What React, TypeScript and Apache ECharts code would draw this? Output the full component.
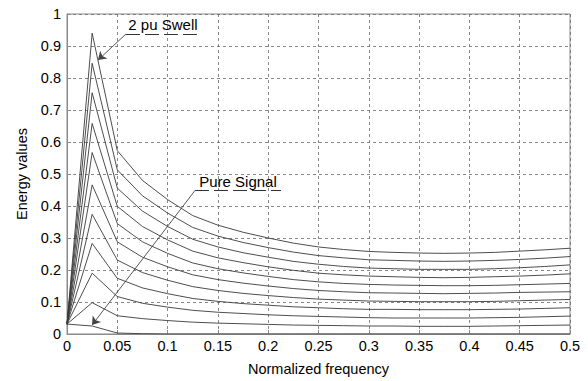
import React, { useEffect, useRef } from "react";
import * as echarts from "echarts";

const freqs = [0, 0.025, 0.05, 0.075, 0.1, 0.125, 0.15, 0.175, 0.2, 0.225, 0.25, 0.275, 0.3, 0.325, 0.35, 0.375, 0.4, 0.425, 0.45, 0.475, 0.5];

const swell10 = [0.031, 0.94, 0.573, 0.48, 0.42, 0.37, 0.34, 0.318, 0.3, 0.284, 0.272, 0.264, 0.258, 0.255, 0.253, 0.252, 0.253, 0.255, 0.259, 0.263, 0.268];
const swell9 = [0.031, 0.846, 0.513, 0.432, 0.378, 0.333, 0.306, 0.286, 0.27, 0.256, 0.245, 0.238, 0.232, 0.23, 0.228, 0.227, 0.228, 0.23, 0.233, 0.237, 0.242];
const swell8 = [0.031, 0.754, 0.456, 0.384, 0.336, 0.296, 0.272, 0.254, 0.24, 0.227, 0.218, 0.211, 0.206, 0.204, 0.202, 0.202, 0.202, 0.204, 0.207, 0.211, 0.216];
const swell7 = [0.031, 0.658, 0.399, 0.336, 0.294, 0.259, 0.238, 0.223, 0.21, 0.199, 0.19, 0.185, 0.181, 0.179, 0.177, 0.176, 0.177, 0.179, 0.181, 0.184, 0.188];
const swell6 = [0.031, 0.567, 0.345, 0.288, 0.252, 0.222, 0.204, 0.191, 0.18, 0.17, 0.163, 0.158, 0.155, 0.153, 0.152, 0.151, 0.151, 0.152, 0.154, 0.156, 0.158];
const swell5 = [0.031, 0.466, 0.288, 0.24, 0.21, 0.185, 0.17, 0.159, 0.15, 0.142, 0.136, 0.132, 0.129, 0.128, 0.127, 0.126, 0.127, 0.128, 0.13, 0.131, 0.132];
const swell4 = [0.031, 0.374, 0.231, 0.192, 0.168, 0.148, 0.136, 0.127, 0.12, 0.114, 0.109, 0.106, 0.103, 0.102, 0.101, 0.101, 0.101, 0.102, 0.104, 0.106, 0.108];
const swell3 = [0.031, 0.283, 0.174, 0.144, 0.126, 0.111, 0.102, 0.095, 0.09, 0.085, 0.082, 0.079, 0.077, 0.077, 0.076, 0.076, 0.076, 0.077, 0.078, 0.08, 0.082];
const swell2 = [0.031, 0.19, 0.117, 0.096, 0.084, 0.074, 0.068, 0.064, 0.06, 0.057, 0.055, 0.053, 0.051, 0.05, 0.05, 0.05, 0.05, 0.051, 0.052, 0.054, 0.056];
const swell1 = [0.031, 0.098, 0.057, 0.048, 0.042, 0.037, 0.034, 0.032, 0.03, 0.028, 0.027, 0.026, 0.025, 0.025, 0.024, 0.024, 0.024, 0.025, 0.026, 0.027, 0.028];
const pureSignal = [0.031, 0.025, 0.003, 0.001, 0, 0, 0, 0, 0, 0, 0, 0, 0, 0, 0, 0, 0, 0, 0, 0, 0];

const allSeries = [swell10, swell9, swell8, swell7, swell6, swell5, swell4, swell3, swell2, swell1, pureSignal];

const xTicks = ["0", "0.05", "0.1", "0.15", "0.2", "0.25", "0.3", "0.35", "0.4", "0.45", "0.5"];

// annotation anchors in data coordinates
const swellLabel = "2 pu Swell";
const swellUnderline = [[0.0586, 0.9375], [0.1322, 0.9375]];
const swellArrow = [[0.0586, 0.9375], [0.0308, 0.856]];
const pureLabel = "Pure Signal";
const pureUnderline = [[0.1272, 0.4484], [0.2127, 0.4484]];
const pureArrow = [[0.1272, 0.4484], [0.0249, 0.028]];

const FONT = "'Liberation Sans', Arial, Helvetica, sans-serif";
const FS = 14.5;

export default function App() {
  const ref = useRef<HTMLDivElement>(null);
  useEffect(() => {
    if (!ref.current) return;
    const chart = echarts.init(ref.current, null, { renderer: "svg" });

    const lineSeries = allSeries.map((vals, i) => ({
      type: "line",
      name: "s" + i,
      data: vals.map((v, j) => [freqs[j], v]),
      showSymbol: false,
      symbol: "none",
      lineStyle: { color: "#3a3a3a", width: 0.9 },
      silent: true,
      z: 3,
    }));

    const underlineStyle = { color: "#333", width: 1, type: [14, 5] };
    const arrowStyle = { color: "#444", width: 0.9, type: "solid" };
    const annLabel = (text: string) => ({
      show: true,
      position: "insideMiddleTop",
      formatter: text,
      color: "#000",
      fontSize: 15,
      fontFamily: FONT,
      distance: 2,
    });

    const annotation = {
      type: "line",
      data: [],
      silent: true,
      markLine: {
        silent: true,
        animation: false,
        symbolSize: 8,
        data: [
          [
            { coord: swellUnderline[0], symbol: "none", lineStyle: underlineStyle, label: annLabel(swellLabel) },
            { coord: swellUnderline[1], symbol: "none" },
          ],
          [
            { coord: swellArrow[0], symbol: "none", lineStyle: arrowStyle, label: { show: false } },
            { coord: swellArrow[1], symbol: "arrow" },
          ],
          [
            { coord: pureUnderline[0], symbol: "none", lineStyle: underlineStyle, label: annLabel(pureLabel) },
            { coord: pureUnderline[1], symbol: "none" },
          ],
          [
            { coord: pureArrow[0], symbol: "none", lineStyle: arrowStyle, label: { show: false } },
            { coord: pureArrow[1], symbol: "arrow" },
          ],
        ],
        itemStyle: { color: "#333" },
      },
    };

    chart.setOption({
      animation: false,
      backgroundColor: "#fff",
      textStyle: { fontFamily: FONT },
      grid: {
        left: 67,
        right: 18,
        top: 14,
        bottom: 47,
        show: true,
        borderColor: "#8a8a8a",
        borderWidth: 1,
      },
      xAxis: {
        type: "value",
        min: 0,
        max: 0.5,
        interval: 0.05,
        name: "Normalized frequency",
        nameLocation: "middle",
        nameGap: 27,
        nameTextStyle: { color: "#000", fontSize: FS, fontFamily: FONT },
        axisLine: { show: true, lineStyle: { color: "#8a8a8a" } },
        axisTick: { show: true, inside: true, length: 4, lineStyle: { color: "#8a8a8a" } },
        axisLabel: {
          color: "#000",
          fontSize: FS,
          fontFamily: FONT,
          margin: 4,
          formatter: (v: number) => {
            const idx = Math.round(v / 0.05);
            return xTicks[idx] ?? "";
          },
        },
        splitLine: { show: true, lineStyle: { color: "#6a6a6a", type: [3, 3], width: 0.8 } },
      },
      yAxis: {
        type: "value",
        min: 0,
        max: 1,
        interval: 0.1,
        name: "Energy values",
        nameLocation: "middle",
        nameGap: 37,
        nameTextStyle: { color: "#000", fontSize: FS, fontFamily: FONT },
        axisLine: { show: true, lineStyle: { color: "#8a8a8a" } },
        axisTick: { show: true, inside: true, length: 4, lineStyle: { color: "#8a8a8a" } },
        axisLabel: {
          color: "#000",
          fontSize: FS,
          fontFamily: FONT,
          margin: 6,
          formatter: (v: number) => {
            const r = Math.round(v * 10) / 10;
            return r === 0 ? "0" : r === 1 ? "1" : String(r);
          },
        },
        splitLine: { show: true, lineStyle: { color: "#6a6a6a", type: [3, 3], width: 0.8 } },
      },
      series: [...lineSeries, annotation],
    });

    return () => chart.dispose();
  }, []);

  return <div ref={ref} style={{ width: 588, height: 381, position: "absolute", left: 0, top: 0 }} />;
}
